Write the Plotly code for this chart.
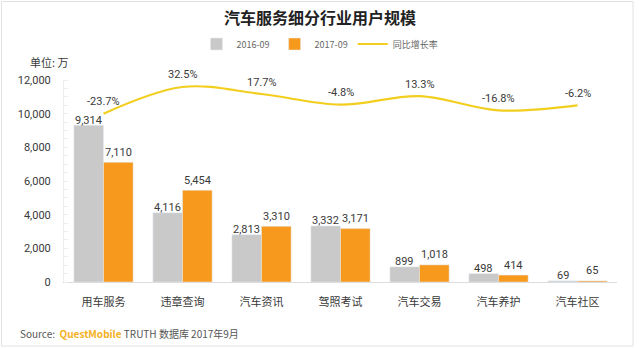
import plotly.graph_objects as go

categories = ["用车服务", "违章查询", "汽车资讯", "驾照考试", "汽车交易", "汽车养护", "汽车社区"]
users_2016 = [9314, 4116, 2813, 3332, 899, 498, 69]
users_2017 = [7110, 5454, 3310, 3171, 1018, 414, 65]
growth = [-23.7, 32.5, 17.7, -4.8, 13.3, -16.8, -6.2]
y_ticks = [0, 2000, 4000, 6000, 8000, 10000, 12000]

FONT = "Noto Sans CJK SC"
GRAY = "#C9C9C9"
ORANGE = "#F7991C"
YELLOW = "#F2CE1F"
TXT = "#3a3a3a"

fig = go.Figure()
fig.add_trace(go.Bar(x=categories, y=users_2016, name="2016-09", marker_color=GRAY, offsetgroup="a"))
fig.add_trace(go.Bar(x=categories, y=users_2017, name="2017-09", marker_color=ORANGE, offsetgroup="b"))
fig.add_trace(go.Scatter(
    x=categories, y=growth, name="同比增长率", yaxis="y2",
    mode="lines", line=dict(color=YELLOW, width=2.2, shape="spline", smoothing=1.0),
))

L, R, T, B = 64, 23, 80, 66
W, H = 640, 348
pw, ph = W - L - R, H - T - B

def px(x):
    return (x - L) / pw

def py(y):
    return (H - B - y) / ph

annotations = []
n = len(categories)
slot = 1.0 / n
bar_w = slot * 0.75 / 2
for i in range(n):
    c = (i + 0.5) * slot
    annotations.append(dict(text=f"{users_2016[i]:,}", x=c - bar_w / 2, y=users_2016[i],
                            xref="paper", yref="y", xanchor="center", yanchor="middle",
                            yshift=5, showarrow=False,
                            font=dict(size=11, color=TXT, family="Roboto")))
    annotations.append(dict(text=f"{users_2017[i]:,}", x=c + bar_w / 2, y=users_2017[i],
                            xref="paper", yref="y", xanchor="center", yanchor="middle",
                            yshift=10, showarrow=False,
                            font=dict(size=11, color=TXT, family="Roboto")))
    annotations.append(dict(text=f"{growth[i]}%", x=categories[i], y=growth[i],
                            xref="x", yref="y2", xanchor="center", yanchor="middle",
                            yshift=12, showarrow=False,
                            font=dict(size=11, color=TXT, family="Roboto")))

annotations += [
    dict(text="单位: 万", x=px(28), y=py(62), xref="paper", yref="paper",
         xanchor="left", yanchor="middle", showarrow=False,
         font=dict(size=11, color=TXT, family=FONT)),
    dict(text="Source:  <b><span style='color:#F4B021'>QuestMobile</span></b> TRUTH 数据库 2017年9月",
         x=px(18), y=py(333), xref="paper", yref="paper",
         xanchor="left", yanchor="middle", showarrow=False,
         font=dict(size=10, color="#555", family=FONT)),
]

fig.update_layout(
    width=W, height=H,
    margin=dict(l=L, r=R, t=T, b=B),
    paper_bgcolor="white", plot_bgcolor="white",
    font=dict(family=FONT, color=TXT, size=11),
    barmode="group", bargap=0.25, bargroupgap=0,
    showlegend=True,
    legend=dict(orientation="h", x=0.5, xanchor="center", xref="container",
                y=(H - 44) / H, yref="container", yanchor="middle",
                font=dict(size=9, color="#666"), itemwidth=30, tracegroupgap=0),
    title=dict(text="<b>汽车服务细分行业用户规模</b>", x=0.5, xanchor="center", xref="container",
               y=(H - 18) / H, yref="container", yanchor="middle",
               font=dict(size=16, color="#222", family=FONT)),
    xaxis=dict(showline=True, linecolor="#DDDDDD", linewidth=1, ticks="",
               tickfont=dict(size=11, color=TXT, family=FONT), ticklabelstandoff=10,
               showgrid=False),
    yaxis=dict(range=[0, 12000], tickvals=y_ticks, tickformat=",d",
               showgrid=False, zeroline=False, showline=True, linecolor="#EEEEEE",
               ticks="", tickfont=dict(size=11, color=TXT, family="Roboto"),
               ticklabelstandoff=10,
               minor=dict(ticks="inside", ticklen=4, tickcolor="#EEEEEE", dtick=500)),
    yaxis2=dict(range=[-378.3, 47.2], overlaying="y", side="right", visible=False),
    annotations=annotations,
    shapes=[
        dict(type="rect", xref="paper", yref="paper",
             x0=px(1.5), x1=px(633), y0=py(1.5), y1=py(346),
             line=dict(color="#E2E2E2", width=1), fillcolor="rgba(0,0,0,0)", layer="below"),
    ],
)

fig.write_html("out.html")
